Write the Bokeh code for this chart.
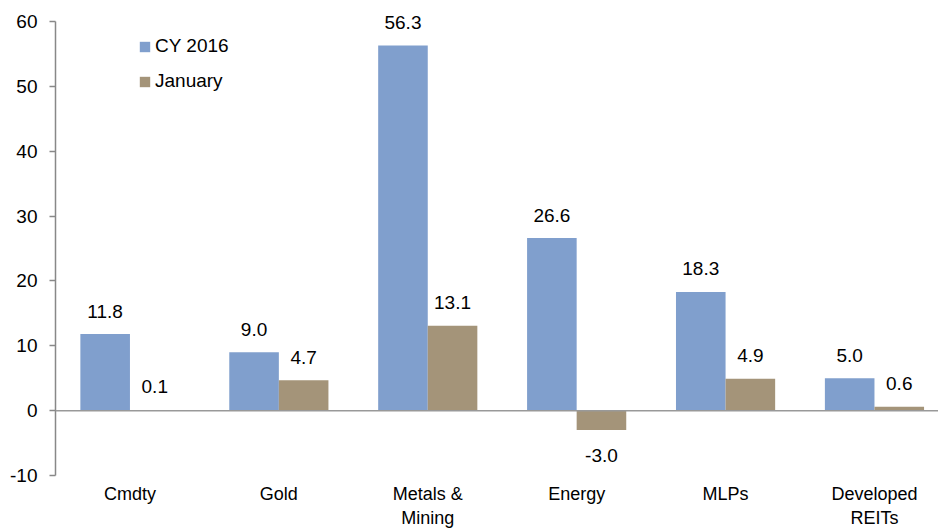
from bokeh.plotting import figure
from bokeh.models import Range1d, FixedTicker, Span, Legend, LegendItem, ColumnDataSource, LabelSet
from bokeh.core.properties import value
from bokeh.embed import file_html
from bokeh.resources import INLINE

categories = ["Cmdty", "Gold", "Metals &\nMining", "Energy", "MLPs", "Developed\nREITs"]
cy2016 = [11.8, 9.0, 56.3, 26.6, 18.3, 5.0]
january = [0.1, 4.7, 13.1, -3.0, 4.9, 0.6]
series_names = ["CY 2016", "January"]
colors = ["#809FCD", "#A49479"]
y_ticks = [-10, 0, 10, 20, 30, 40, 50, 60]

FONT = "Liberation Sans"
idx = list(range(len(categories)))
bw = 0.333

# frame reaches the top of the page so the "56.3" label is not clipped;
# the axis itself is bounded to -10..60
top_extra = 21 * 70 / 454
p = figure(frame_width=883, frame_height=475, output_backend="svg", toolbar_location=None,
           x_range=Range1d(0, 5.93), y_range=Range1d(-10, 60 + top_extra),
           min_border_left=55, min_border_right=0, min_border_top=0, min_border_bottom=0)
p.outline_line_color = None
p.grid.visible = False
p.background_fill_color = None
p.border_fill_color = "white"

rends = []
for k, (vals, name, col) in enumerate(zip([cy2016, january], series_names, colors)):
    xs = [i + 0.5 + (k - 0.5) * bw for i in idx]
    src = ColumnDataSource(dict(x=xs, top=vals,
                                lab=[f"{v:.1f}" for v in vals],
                                off=[23 if v >= 0 else -25 for v in vals]))
    r = p.vbar(x="x", top="top", bottom=0, width=bw, fill_color=col, line_color=None, source=src)
    rends.append(r)
    ls = LabelSet(x="x", y="top", text="lab", source=src, text_align="center",
                  text_baseline="middle", y_offset="off",
                  text_font=value(FONT), text_font_size="19px", text_color="black")
    p.add_layout(ls)

p.add_layout(Span(location=0, dimension="width", line_color="#999999", line_width=1.5))

yax = p.yaxis[0]
yax.bounds = (-10, 60)
yax.ticker = FixedTicker(ticks=y_ticks)
yax.major_label_overrides = {t: str(t) for t in y_ticks}
yax.axis_line_color = "#888888"
yax.axis_line_width = 1.5
yax.major_tick_line_color = "#888888"
yax.major_tick_line_width = 1.5
yax.major_tick_in = 0
yax.major_tick_out = 6
yax.minor_tick_line_color = None
yax.major_label_standoff = 12
yax.major_label_text_font = FONT
yax.major_label_text_font_size = "19px"
yax.major_label_text_color = "black"

xax = p.xaxis[0]
xax.ticker = FixedTicker(ticks=[i + 0.5 for i in idx])
xax.major_label_overrides = {i + 0.5: c for i, c in zip(idx, categories)}
xax.axis_line_color = None
xax.major_tick_line_color = None
xax.major_tick_in = 0
xax.major_tick_out = 0
xax.minor_tick_line_color = None
xax.major_label_standoff = 8
xax.major_label_text_font = FONT
xax.major_label_text_font_size = "18px"
xax.major_label_text_color = "black"

legend = Legend(items=[LegendItem(label=n, renderers=[r]) for n, r in zip(series_names, rends)],
                location=(83, 383), orientation="vertical",
                glyph_width=13, glyph_height=13, label_height=20, spacing=13,
                padding=0, margin=0, label_standoff=4,
                border_line_color=None, background_fill_alpha=0,
                label_text_font=FONT, label_text_font_size="19px", label_text_color="black")
p.add_layout(legend)

open("out.html", "w").write(file_html(p, INLINE))
